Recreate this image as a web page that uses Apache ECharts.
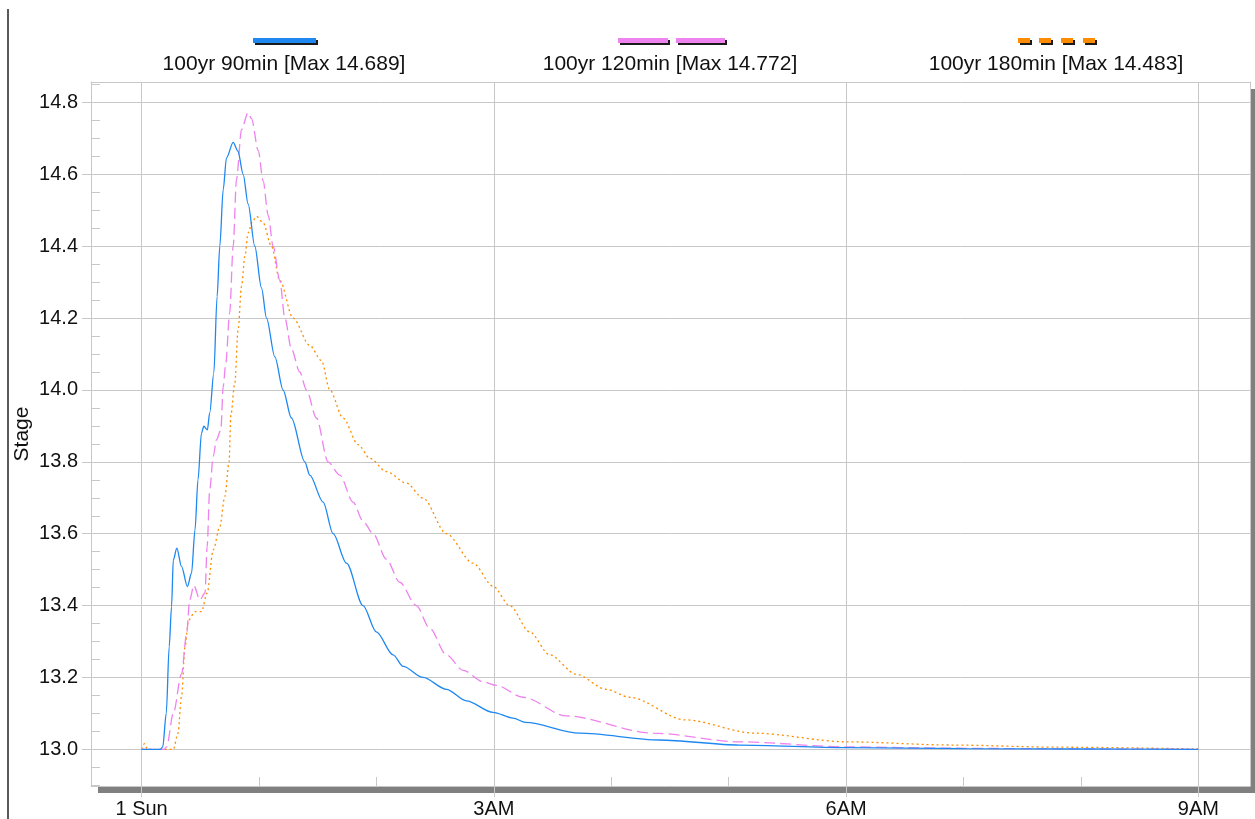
<!DOCTYPE html>
<html>
<head>
<meta charset="utf-8">
<title>Stage hydrographs</title>
<script src="https://cdn.jsdelivr.net/npm/echarts@6/dist/echarts.min.js"></script>
<style>
  html, body { margin: 0; padding: 0; background: #ffffff; }
  #chart { width: 1255px; height: 819px; }
</style>
</head>
<body>
<div id="chart"></div>
<script>
// Stage (ft) against hours after 1 Sun 00:00 for three storm durations
const t90 = [0, 0.16, 0.18, 0.21, 0.235, 0.255, 0.27, 0.30, 0.34, 0.39, 0.425, 0.455, 0.48, 0.51, 0.53, 0.56, 0.58,
  0.615, 0.643, 0.666, 0.695, 0.723, 0.78, 0.82, 0.865, 0.907, 0.964, 1.021, 1.064, 1.135, 1.205, 1.276, 1.39, 1.432,
  1.546, 1.631, 1.745, 1.886, 1.999, 2.142, 2.227, 2.397, 2.596, 2.766, 2.993, 3.163, 3.27, 3.73, 4.41, 5.09, 6.0,
  7.0, 8.0, 9.0];
const v90 = [13.0, 13.0, 13.007, 13.10, 13.286, 13.397, 13.527, 13.56, 13.509, 13.453, 13.49, 13.611, 13.75, 13.88,
  13.899, 13.889, 13.936, 14.047, 14.26, 14.40, 14.558, 14.646, 14.689, 14.665, 14.60, 14.518, 14.40, 14.284, 14.20,
  14.092, 14.0, 13.922, 13.80, 13.763, 13.688, 13.60, 13.518, 13.40, 13.327, 13.263, 13.231, 13.20, 13.167, 13.135,
  13.103, 13.087, 13.075, 13.045, 13.026, 13.012, 13.005, 13.002, 13.001, 13.0];

const t120 = [0, 0.19, 0.213, 0.27, 0.34, 0.383, 0.41, 0.445, 0.496, 0.54, 0.558, 0.58, 0.61, 0.638, 0.675, 0.695,
  0.717, 0.75, 0.78, 0.808, 0.851, 0.907, 0.936, 0.993, 1.035, 1.078, 1.12, 1.177, 1.22, 1.276, 1.347, 1.404, 1.489,
  1.588, 1.688, 1.801, 1.886, 1.972, 2.085, 2.198, 2.34, 2.454, 2.596, 2.738, 2.908, 3.021, 3.248, 3.617, 4.36, 5.09,
  6.0, 6.9, 8.0, 9.0];
const v120 = [13.0, 13.0, 13.007, 13.10, 13.21, 13.32, 13.416, 13.456, 13.416, 13.435, 13.564, 13.722, 13.815,
  13.862, 13.889, 14.01, 14.075, 14.214, 14.40, 14.586, 14.725, 14.772, 14.755, 14.667, 14.582, 14.486, 14.40, 14.305,
  14.20, 14.114, 14.05, 14.0, 13.922, 13.80, 13.763, 13.688, 13.635, 13.60, 13.529, 13.465, 13.40, 13.337, 13.263,
  13.22, 13.188, 13.178, 13.145, 13.093, 13.045, 13.021, 13.007, 13.003, 13.001, 13.0];

const t180 = [0, 0.025, 0.05, 0.27, 0.31, 0.34, 0.37, 0.40, 0.454, 0.51, 0.558, 0.61, 0.666, 0.709, 0.745, 0.76,
  0.794, 0.822, 0.851, 0.88, 0.907, 0.945, 0.979, 1.035, 1.106, 1.177, 1.29, 1.432, 1.532, 1.603, 1.716, 1.844, 1.943,
  2.085, 2.255, 2.397, 2.596, 2.823, 2.993, 3.135, 3.305, 3.475, 3.702, 3.957, 4.156, 4.63, 5.22, 6.0, 6.9, 7.8, 9.0];
const v180 = [13.0, 13.016, 13.0, 13.0, 13.045, 13.147, 13.286, 13.36, 13.383, 13.383, 13.435, 13.555, 13.62, 13.704,
  13.80, 13.93, 14.02, 14.168, 14.289, 14.372, 14.437, 14.47, 14.483, 14.465, 14.40, 14.305, 14.20, 14.124, 14.082,
  14.0, 13.922, 13.848, 13.81, 13.773, 13.741, 13.699, 13.60, 13.518, 13.454, 13.40, 13.327, 13.263, 13.209, 13.167,
  13.145, 13.082, 13.045, 13.021, 13.012, 13.006, 13.001];

const seriesNames = ['100yr 90min', '100yr 120min', '100yr 180min'];
const seriesMax = [14.689, 14.772, 14.483];
const seriesColors = ['#1e88f0', '#ee82ee', '#ff8c00'];

const xTickHours = [0, 3, 6, 9];
const xTickLabels = ['1 Sun', '3AM', '6AM', '9AM'];
const xMinorHours = [1, 2, 4, 5, 7, 8];
const yTickValues = [13.0, 13.2, 13.4, 13.6, 13.8, 14.0, 14.2, 14.4, 14.6, 14.8];
const yMinorValues = [12.90, 12.95, 13.00, 13.05, 13.10, 13.15, 13.20, 13.25, 13.30, 13.35, 13.40, 13.45, 13.50,
  13.55, 13.60, 13.65, 13.70, 13.75, 13.80, 13.85, 13.90, 13.95, 14.00, 14.05, 14.10, 14.15, 14.20, 14.25, 14.30,
  14.35, 14.40, 14.45, 14.50, 14.55, 14.60, 14.65, 14.70, 14.75, 14.80, 14.85];

const X_MIN = -0.431, X_MAX = 9.44;
const Y_MIN = 12.898, Y_MAX = 14.857;

const FONT = '"Liberation Sans", Arial, sans-serif';
const GRID_COLOR = '#c8c8c8';
const TEXT_COLOR = '#111111';

function pairs(ts, vs) {
  return ts.map((t, i) => [t, vs[i]]);
}

// legend swatch segments [x0, x1] and text centre for each series
const legendSegments = [
  [[253, 316]],
  [[618, 668], [676, 725]],
  [[1018, 1030], [1039, 1051], [1061, 1073], [1083, 1095]]
];
const legendCentres = [284, 670, 1056];

const legendGraphics = [];
seriesNames.forEach((name, i) => {
  legendSegments[i].forEach(([x0, x1]) => {
    legendGraphics.push({
      type: 'rect',
      shape: { x: x0, y: 38, width: x1 - x0, height: 5 },
      style: {
        fill: seriesColors[i],
        shadowColor: '#1a1a1a', shadowBlur: 0, shadowOffsetX: 2, shadowOffsetY: 2
      }
    });
  });
  legendGraphics.push({
    type: 'text',
    x: legendCentres[i],
    y: 64,
    style: {
      text: name + ' [Max ' + seriesMax[i].toFixed(3) + ']',
      font: '21px ' + FONT,
      fill: TEXT_COLOR,
      textAlign: 'center',
      textVerticalAlign: 'middle'
    }
  });
});

// frame-only axis (top / right edges of the plot)
function frameAxis(position, min, max) {
  return {
    type: 'value', min: min, max: max, position: position,
    axisLine: { show: true, onZero: false, lineStyle: { color: GRID_COLOR, width: 1 } },
    axisTick: { show: false },
    axisLabel: { show: false },
    splitLine: { show: false }
  };
}

const chart = echarts.init(document.getElementById('chart'), null, { renderer: 'canvas' });

const option = {
  backgroundColor: '#ffffff',
  animation: false,
  grid: {
    left: 91, top: 82, right: 5, bottom: 33,
    show: true,
    backgroundColor: '#ffffff',
    borderWidth: 0,
    shadowColor: '#808080', shadowBlur: 0, shadowOffsetX: 7, shadowOffsetY: 7
  },
  graphic: [
    {
      type: 'line',
      shape: { x1: 8, y1: 9, x2: 8, y2: 819 },
      style: { stroke: '#5a5a5a', lineWidth: 2 }
    }
  ].concat(legendGraphics),
  xAxis: [
    {
      type: 'value', min: X_MIN, max: X_MAX, position: 'bottom',
      axisLine: { show: true, onZero: false, lineStyle: { color: GRID_COLOR, width: 1 } },
      axisTick: { show: true, length: 11, customValues: xTickHours, lineStyle: { color: GRID_COLOR } },
      axisLabel: {
        customValues: xTickHours, margin: 13,
        color: TEXT_COLOR, fontSize: 20, fontFamily: FONT,
        formatter: v => xTickLabels[xTickHours.indexOf(v)]
      },
      splitLine: { show: true, lineStyle: { color: GRID_COLOR, width: 1 } }
    },
    {
      type: 'value', min: X_MIN, max: X_MAX, position: 'bottom',
      axisLine: { show: false, onZero: false },
      axisTick: { show: true, inside: true, length: 9, customValues: xMinorHours, lineStyle: { color: GRID_COLOR } },
      axisLabel: { show: false },
      splitLine: { show: false }
    },
    frameAxis('top', X_MIN, X_MAX)
  ],
  yAxis: [
    {
      type: 'value', min: Y_MIN, max: Y_MAX, position: 'left',
      name: 'Stage', nameLocation: 'middle', nameRotate: 90, nameGap: 58, nameMoveOverlap: false,
      nameTextStyle: { color: TEXT_COLOR, fontSize: 21, fontFamily: FONT },
      axisLine: { show: true, onZero: false, lineStyle: { color: GRID_COLOR, width: 1 } },
      axisTick: { show: true, length: 9, customValues: yTickValues, lineStyle: { color: GRID_COLOR } },
      axisLabel: {
        customValues: yTickValues, margin: 13,
        color: TEXT_COLOR, fontSize: 20, fontFamily: FONT,
        formatter: v => v.toFixed(1)
      },
      splitLine: { show: true, lineStyle: { color: GRID_COLOR, width: 1 } }
    },
    {
      type: 'value', min: Y_MIN, max: Y_MAX, position: 'left', offset: 0,
      axisLine: { show: false, onZero: false },
      axisTick: { show: true, inside: true, length: 9, customValues: yMinorValues, lineStyle: { color: GRID_COLOR } },
      axisLabel: { show: false },
      splitLine: { show: false }
    },
    frameAxis('right', Y_MIN, Y_MAX)
  ],
  series: [
    {
      name: seriesNames[0], type: 'line', data: pairs(t90, v90),
      showSymbol: false, smooth: 0.3, smoothMonotone: 'x',
      lineStyle: { color: seriesColors[0], width: 1.3, type: 'solid' },
      z: 4
    },
    {
      name: seriesNames[1], type: 'line', data: pairs(t120, v120),
      showSymbol: false, smooth: 0.3, smoothMonotone: 'x',
      lineStyle: { color: seriesColors[1], width: 1.3, type: [11, 5] },
      z: 3
    },
    {
      name: seriesNames[2], type: 'line', data: pairs(t180, v180),
      showSymbol: false, smooth: 0.3, smoothMonotone: 'x',
      lineStyle: { color: seriesColors[2], width: 1.3, type: [2, 3] },
      z: 2
    }
  ]
};

chart.setOption(option);
</script>
</body>
</html>
